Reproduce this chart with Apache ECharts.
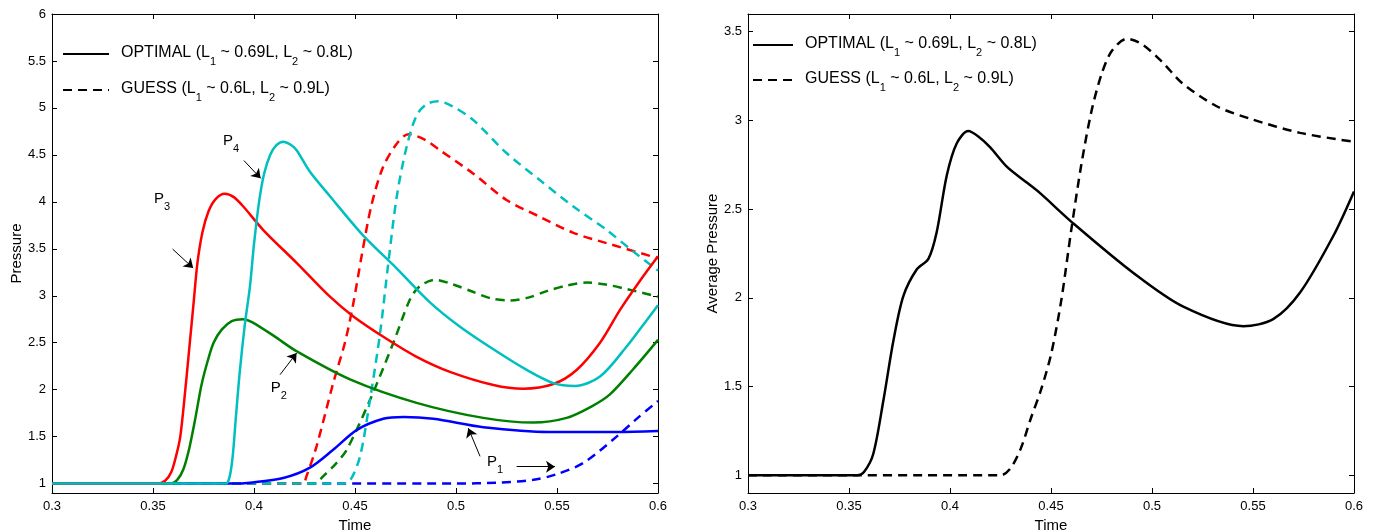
<!DOCTYPE html>
<html>
<head>
<meta charset="utf-8">
<script src="https://cdn.jsdelivr.net/npm/echarts@6/dist/echarts.min.js"></script>
<style>
html,body{margin:0;padding:0;background:#fff;}
#chart{width:1373px;height:530px;}
</style>
</head>
<body>
<div id="chart"></div>
<script>
// ---------- data (time, pressure) ----------
const p1Optimal = [[0.3,1],[0.39,1],[0.398,1.01],[0.4145,1.06],[0.4277,1.17],[0.4392,1.36],[0.4508,1.57],[0.464,1.69],[0.474,1.71],[0.4888,1.69],[0.5135,1.6],[0.5465,1.55],[0.5795,1.55],[0.6,1.56]];
const p2Optimal = [[0.3,1],[0.359,1],[0.362,1.04],[0.365,1.15],[0.368,1.38],[0.371,1.7],[0.374,2.05],[0.377,2.3],[0.38,2.5],[0.384,2.64],[0.389,2.73],[0.3945,2.75],[0.399,2.72],[0.41,2.57],[0.421,2.41],[0.4475,2.11],[0.4805,1.86],[0.5135,1.70],[0.5383,1.65],[0.5548,1.70],[0.567,1.82],[0.5762,1.95],[0.5878,2.22],[0.6,2.53]];
const p3Optimal = [[0.3,1],[0.352,1],[0.356,1.03],[0.359,1.12],[0.3615,1.3],[0.3635,1.5],[0.366,2.0],[0.368,2.45],[0.37,2.9],[0.372,3.35],[0.3745,3.68],[0.3775,3.9],[0.381,4.03],[0.3855,4.085],[0.39,4.05],[0.3947,3.95],[0.4046,3.70],[0.4211,3.35],[0.4376,2.99],[0.4492,2.78],[0.465,2.55],[0.4805,2.35],[0.497,2.19],[0.5185,2.05],[0.5333,2.01],[0.5482,2.06],[0.5597,2.21],[0.5713,2.50],[0.5812,2.85],[0.5911,3.16],[0.6,3.42]];
const p4Optimal = [[0.3,1],[0.386,1],[0.388,1.08],[0.3895,1.3],[0.391,1.7],[0.393,2.2],[0.3955,2.7],[0.398,3.1],[0.4,3.55],[0.4025,4.0],[0.405,4.3],[0.408,4.5],[0.411,4.6],[0.4145,4.64],[0.418,4.61],[0.4211,4.55],[0.4277,4.32],[0.4376,4.06],[0.4541,3.64],[0.4707,3.29],[0.4871,2.93],[0.502,2.67],[0.5185,2.43],[0.535,2.21],[0.5482,2.07],[0.5589,2.04],[0.5713,2.14],[0.5845,2.46],[0.5944,2.74],[0.6,2.9]];

const p1Guess = [[0.3,1],[0.5,1],[0.52,1.01],[0.5383,1.04],[0.5498,1.10],[0.563,1.22],[0.5795,1.50],[0.59,1.7],[0.6,1.88]];
const p2Guess = [[0.3,1],[0.43,1],[0.4343,1.08],[0.44,1.2],[0.4459,1.36],[0.4574,1.89],[0.469,2.50],[0.4772,2.96],[0.482,3.10],[0.4896,3.17],[0.4986,3.12],[0.5086,3.04],[0.5177,2.97],[0.5267,2.95],[0.5358,2.98],[0.5449,3.05],[0.555,3.11],[0.5647,3.14],[0.574,3.12],[0.5828,3.08],[0.6,2.99]];
const p3Guess = [[0.3,1],[0.424,1],[0.426,1.08],[0.431,1.40],[0.4392,2.07],[0.445,2.5],[0.449,2.9],[0.4535,3.45],[0.458,3.95],[0.4635,4.35],[0.47,4.6],[0.4764,4.72],[0.4847,4.66],[0.492,4.55],[0.5086,4.30],[0.525,4.02],[0.5416,3.84],[0.5581,3.67],[0.5746,3.56],[0.6,3.40]];
const p4Guess = [[0.3,1],[0.444,1],[0.4475,1.03],[0.4525,1.29],[0.4574,1.89],[0.4624,2.6],[0.4665,3.35],[0.4707,4.06],[0.4756,4.59],[0.4805,4.92],[0.4855,5.04],[0.4912,5.07],[0.498,5.02],[0.5086,4.87],[0.525,4.52],[0.5416,4.23],[0.5581,3.95],[0.5746,3.70],[0.5878,3.47],[0.6,3.27]];

const avgOptimal = [[0.3,1],[0.354,1],[0.3575,1.02],[0.362,1.12],[0.367,1.42],[0.372,1.76],[0.3769,2.01],[0.3835,2.16],[0.3893,2.22],[0.3934,2.37],[0.3984,2.69],[0.4033,2.87],[0.409,2.94],[0.414,2.91],[0.4198,2.85],[0.4281,2.74],[0.438,2.65],[0.4446,2.59],[0.461,2.42],[0.4908,2.14],[0.5155,1.95],[0.5452,1.84],[0.56,1.88],[0.5733,2.03],[0.5898,2.35],[0.6,2.6]];
const avgGuess = [[0.3,1],[0.425,1],[0.43,1.04],[0.435,1.15],[0.44,1.32],[0.445,1.48],[0.45,1.68],[0.455,1.98],[0.46,2.38],[0.465,2.75],[0.47,3.05],[0.475,3.26],[0.48,3.39],[0.4875,3.46],[0.495,3.43],[0.505,3.33],[0.515,3.21],[0.532,3.08],[0.5485,3.01],[0.5733,2.93],[0.6,2.88]];

// ---------- ticks ----------
const xTicks = [0.3,0.35,0.4,0.45,0.5,0.55,0.6];
const yTicksLeft = [1,1.5,2,2.5,3,3.5,4,4.5,5,5.5,6];
const yTicksRight = [1,1.5,2,2.5,3,3.5];

// ---------- legend text ----------
const legendNames = ['OPTIMAL','GUESS'];
const legendParts = {
  OPTIMAL: ['OPTIMAL (L','1',' ~ 0.69L, L','2',' ~ 0.8L)'],
  GUESS: ['GUESS (L','1',' ~ 0.6L, L','2',' ~ 0.9L)']
};

// ---------- annotations (labels and arrows, data coords) ----------
const annLabels = [
  {name:'P', sub:'1', at:[0.5153,1.22]},
  {name:'P', sub:'2', at:[0.4083,2.01]},
  {name:'P', sub:'3', at:[0.3505,4.02]},
  {name:'P', sub:'4', at:[0.3847,4.64]}
];
const annArrows = [
  [[0.3597,3.497],[0.3699,3.295]],
  [[0.3950,4.44],[0.4033,4.25]],
  [[0.4129,2.16],[0.4211,2.39]],
  [[0.5119,1.29],[0.5061,1.59]],
  [[0.530,1.18],[0.549,1.18]]
];

const FONT = 'Liberation Sans';
function makeRich(size, sub, drop) {
  return {
    g: {width: 7},
    a: {fontFamily: FONT, fontSize: size, color: '#000', lineHeight: size + 2, verticalAlign: 'top'},
    s: {fontFamily: FONT, fontSize: sub, color: '#000', lineHeight: sub, padding: [drop,0,0,0], verticalAlign: 'top'}
  };
}
const legendRich = makeRich(16, 11, 11);
const annRich = makeRich(15, 11, 10);
function richLabel(parts) {
  return parts.map((t, i) => (i % 2 === 0 ? '{a|' : '{s|') + t + '}').join('');
}

const chart = echarts.init(document.getElementById('chart'), null, {renderer: 'canvas'});

const grids = [
  {left: 52, top: 14, width: 606, height: 479, outerBoundsMode: 'none', containLabel: false},
  {left: 748, top: 14, width: 606, height: 479, outerBoundsMode: 'none', containLabel: false}
];

function xAxisPair(gi) {
  const base = {
    type: 'value', gridIndex: gi, min: 0.3, max: 0.6,
    axisLine: {show: true, onZero: false, lineStyle: {color: '#000', width: 1}},
    axisTick: {show: true, inside: true, length: 5, customValues: xTicks, lineStyle: {color: '#000'}},
    splitLine: {show: false}
  };
  return [
    Object.assign({}, base, {
      position: 'bottom',
      axisLabel: {show: true, customValues: xTicks, fontFamily: FONT, fontSize: 13, color: '#000', margin: 7},
      name: 'Time', nameLocation: 'middle', nameGap: 18,
      nameTextStyle: {fontFamily: FONT, fontSize: 15, color: '#000'}
    }),
    Object.assign({}, base, {position: 'top', axisLabel: {show: false}})
  ];
}
function yAxisPair(gi, min, max, ticks, name, gap) {
  const base = {
    type: 'value', gridIndex: gi, min: min, max: max,
    axisLine: {show: true, onZero: false, lineStyle: {color: '#000', width: 1}},
    axisTick: {show: true, inside: true, length: 5, customValues: ticks, lineStyle: {color: '#000'}},
    splitLine: {show: false}
  };
  return [
    Object.assign({}, base, {
      position: 'left',
      axisLabel: {show: true, customValues: ticks, fontFamily: FONT, fontSize: 13, color: '#000', margin: 6},
      name: name, nameLocation: 'middle', nameGap: gap, nameRotate: 90,
      nameTextStyle: {fontFamily: FONT, fontSize: 15, color: '#000'}
    }),
    Object.assign({}, base, {position: 'right', axisLabel: {show: false}})
  ];
}

const xAxes = xAxisPair(0).concat(xAxisPair(1));
const yAxes = yAxisPair(0, 0.9, 6, yTicksLeft, 'Pressure', 26).concat(yAxisPair(1, 0.9, 3.6, yTicksRight, 'Average Pressure', 28));

function lineSeries(name, data, color, dashed, xi, yi, extra) {
  return Object.assign({
    name: name, type: 'line', data: data, xAxisIndex: xi, yAxisIndex: yi,
    showSymbol: false, symbol: 'none', smooth: 0.3, silent: true, animation: false,
    lineStyle: {color: color, width: 2.5, type: dashed ? [9, 6] : 'solid', cap: 'butt'},
    itemStyle: {color: color}
  }, extra || {});
}

const RED = '#ff0000', GREEN = '#008000', BLUE = '#0000ff', CYAN = '#00bfbf';

const series = [
  lineSeries('P1 guess', p1Guess, BLUE, true, 0, 0),
  lineSeries('P2 guess', p2Guess, GREEN, true, 0, 0),
  lineSeries('P3 guess', p3Guess, RED, true, 0, 0),
  lineSeries('P4 guess', p4Guess, CYAN, true, 0, 0),
  lineSeries('P1 optimal', p1Optimal, BLUE, false, 0, 0, {
    markLine: {
      silent: true, animation: false,
      symbol: ['none', 'arrow'], symbolSize: 9,
      label: {show: false},
      itemStyle: {color: '#000'},
      lineStyle: {color: '#000', width: 1, type: 'solid'},
      emphasis: {disabled: true},
      data: annArrows.map(a => [{coord: a[0]}, {coord: a[1]}])
    },
    markPoint: {
      silent: true, animation: false,
      symbol: 'circle', symbolSize: 0,
      itemStyle: {color: 'rgba(0,0,0,0)'},
      label: {show: true, position: [0, 0], align: 'left', verticalAlign: 'middle', rich: annRich},
      data: annLabels.map(l => ({coord: l.at, label: {formatter: richLabel([l.name, l.sub])}}))
    }
  }),
  lineSeries('P2 optimal', p2Optimal, GREEN, false, 0, 0),
  lineSeries('P3 optimal', p3Optimal, RED, false, 0, 0),
  lineSeries('P4 optimal', p4Optimal, CYAN, false, 0, 0),
  lineSeries('OPTIMAL', avgOptimal, '#000', false, 2, 2),
  lineSeries('GUESS', avgGuess, '#000', true, 2, 2)
];

function legendCfg(left, top, gap, w) {
  return {
    data: legendNames, orient: 'vertical', left: left, top: top, padding: 0,
    itemWidth: w, itemHeight: 14, itemGap: gap, selectedMode: false,
    itemStyle: {opacity: 0},
    formatter: n => '{g|}' + richLabel(legendParts[n]),
    textStyle: {fontFamily: FONT, fontSize: 16, color: '#000', rich: legendRich}
  };
}

chart.setOption({
  animation: false,
  backgroundColor: '#fff',
  grid: grids,
  xAxis: xAxes,
  yAxis: yAxes,
  legend: [legendCfg(62, 45, 14, 46), legendCfg(752, 36, 13, 40)],
  series: series
});
</script>
</body>
</html>
